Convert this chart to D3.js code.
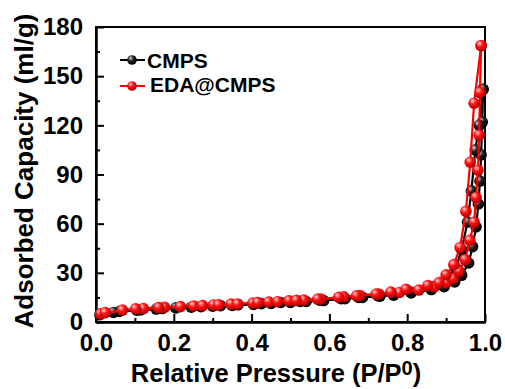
<!DOCTYPE html>
<html><head><meta charset="utf-8">
<script src="https://cdn.jsdelivr.net/npm/d3@7"></script>
<style>
html,body{margin:0;padding:0;background:#fff;}
svg{display:block;font-family:"Liberation Sans",Arial,sans-serif;}
</style></head>
<body><svg id="c" width="505" height="389"></svg>
<script>
// ---- data ----
const seriesNames = ["CMPS", "EDA@CMPS"];
const cmpsAdsP = [0.010,0.060,0.115,0.170,0.245,0.300,0.350,0.405,0.450,0.500,0.540,0.585,0.640,0.685,0.730,0.765,0.810,0.862,0.895,0.922,0.940,0.958,0.968,0.977,0.983,0.987,0.990,0.993,0.995];
const cmpsAdsV = [4.5,6.5,7.4,8.2,9.0,9.6,10.1,10.7,11.3,12.0,12.5,13.1,14.2,15.0,15.8,16.4,17.8,19.8,21.5,24.5,28.5,36,46,58,72,86,102,122,142];
const cmpsDesP = [0.995,0.985,0.975,0.965,0.955,0.940,0.925,0.905,0.870,0.810,0.765,0.725,0.675,0.630,0.575,0.525,0.475,0.425,0.365,0.320,0.270,0.205,0.155,0.105,0.045];
const cmpsDesV = [142,120,105,80,61,44,33,27,21.8,18.2,16.8,16.0,15.0,14.2,13.3,12.6,11.9,11.2,10.5,10.0,9.4,8.6,7.9,7.2,5.8];
const edaAdsP = [0.012,0.068,0.122,0.176,0.251,0.302,0.347,0.403,0.444,0.496,0.534,0.578,0.637,0.678,0.727,0.780,0.830,0.870,0.900,0.918,0.933,0.949,0.961,0.972,0.977,0.982,0.985,0.987,0.990];
const edaAdsV = [5.0,7.3,8.2,8.9,9.8,10.4,10.9,11.6,12.2,13.0,13.4,14.0,15.4,16.2,17.1,18.0,19.5,21.5,24,26.5,31,38,49.8,60.8,76,92.6,114,140,168.6];
const edaDesP = [0.990,0.972,0.962,0.951,0.936,0.920,0.900,0.882,0.853,0.797,0.758,0.720,0.670,0.624,0.570,0.515,0.467,0.416,0.364,0.315,0.274,0.217,0.161,0.102,0.024];
const edaDesV = [168.6,133.5,97.5,67.5,45.5,35,28.8,24,22.2,20,18.2,17.0,16.0,15.1,14.0,13.2,12.4,11.8,11.0,10.5,10.0,9.4,8.8,8.0,5.7];
const xTicks = [0.0,0.2,0.4,0.6,0.8,1.0];
const yTicks = [0,30,60,90,120,150,180];

// ---- layout ----
const svg = d3.select("#c");
const L = 96, R = 485, T = 27, B = 322;
const x = d3.scaleLinear().domain([0,1]).range([L,R]);
const y = d3.scaleLinear().domain([0,180]).range([B,T]);

// gradients
const defs = svg.append("defs");
function grad(id, hi, mid, edge){
  const g = defs.append("radialGradient").attr("id",id).attr("cx","40%").attr("cy","35%").attr("r","65%").attr("fx","35%").attr("fy","30%");
  g.append("stop").attr("offset","0%").attr("stop-color",hi);
  g.append("stop").attr("offset","45%").attr("stop-color",mid);
  g.append("stop").attr("offset","100%").attr("stop-color",edge);
}
grad("gBlack","#d8d8d8","#222","#000");
grad("gRed","#ffd0d0","#ff1010","#b00000");

// frame
svg.append("rect").attr("x",L).attr("y",T).attr("width",R-L).attr("height",B-T)
  .attr("fill","none").attr("stroke","#000").attr("stroke-width",2);

// axes (ticks inward)
const xAxis = d3.axisBottom(x).tickValues(xTicks).tickFormat(d3.format(".1f")).tickSizeInner(-8).tickSizeOuter(0).tickPadding(12);
const xMinor = d3.axisBottom(x).tickValues([0.1,0.3,0.5,0.7,0.9]).tickFormat("").tickSizeInner(-4).tickSizeOuter(0);
const yAxis = d3.axisLeft(y).tickValues(yTicks).tickSizeInner(-8).tickSizeOuter(0).tickPadding(13);
const yMinor = d3.axisLeft(y).tickValues([15,45,75,105,135,165]).tickFormat("").tickSizeInner(-4).tickSizeOuter(0);

function styleAxis(g){
  g.select(".domain").attr("stroke","#000").attr("stroke-width",2);
  g.selectAll(".tick line").attr("stroke","#000").attr("stroke-width",2);
  g.selectAll(".tick text").attr("fill","#000").style("font-size","24px").style("font-weight","bold")
    .style("font-family","'Liberation Sans',Arial,sans-serif");
}
svg.append("g").attr("transform",`translate(0,${B})`).call(xAxis).call(styleAxis);
svg.append("g").attr("transform",`translate(0,${B})`).call(xMinor).call(styleAxis);
svg.append("g").attr("transform",`translate(${L},0)`).call(yAxis).call(styleAxis);
svg.append("g").attr("transform",`translate(${L},0)`).call(yMinor).call(styleAxis);

// data drawing
const line = d3.line().x(d=>x(d[0])).y(d=>y(d[1]));
function drawSeries(ap, av, dp, dv, color, gid){
  const ads = ap.map((p,i)=>[p,av[i]]);
  const des = dp.map((p,i)=>[p,dv[i]]);
  const g = svg.append("g");
  g.append("path").datum(ads).attr("d",line).attr("fill","none").attr("stroke",color).attr("stroke-width",2.2);
  g.append("path").datum(des).attr("d",line).attr("fill","none").attr("stroke",color).attr("stroke-width",2.2);
  g.selectAll("circle.a").data(ads.concat(des)).enter().append("circle")
    .attr("cx",d=>x(d[0])).attr("cy",d=>y(d[1])).attr("r",5.8).attr("fill",`url(#${gid})`);
}
drawSeries(cmpsAdsP,cmpsAdsV,cmpsDesP,cmpsDesV,"#000","gBlack");
drawSeries(edaAdsP,edaAdsV,edaDesP,edaDesV,"#ff0000","gRed");

// legend
const leg = [{name:seriesNames[0],color:"#000",gid:"gBlack",ly:60,ty:68,tx:147},
             {name:seriesNames[1],color:"#ff0000",gid:"gRed",ly:86,ty:92,tx:150}];
leg.forEach(l=>{
  svg.append("line").attr("x1",120).attr("x2",145).attr("y1",l.ly).attr("y2",l.ly).attr("stroke",l.color).attr("stroke-width",2);
  svg.append("circle").attr("cx",132).attr("cy",l.ly).attr("r",4.8).attr("fill",`url(#${l.gid})`);
  svg.append("text").attr("x",l.tx).attr("y",l.ty).text(l.name)
    .style("font-size","21px").style("font-weight","bold").attr("fill","#000");
});

// axis titles
const xt = svg.append("text").attr("x",276).attr("y",382).attr("text-anchor","middle")
  .style("font-size","25.5px").style("font-weight","bold").attr("fill","#000");
xt.append("tspan").text("Relative Pressure (P/P");
xt.append("tspan").text("0").attr("dy",-7).style("font-size","20px");
xt.append("tspan").text(")").attr("dy",7);

svg.append("text").attr("transform","translate(33,171) rotate(-90)").attr("text-anchor","middle")
  .style("font-size","26px").style("font-weight","bold").attr("fill","#000")
  .text("Adsorbed Capacity (ml/g)");
</script></body></html>
